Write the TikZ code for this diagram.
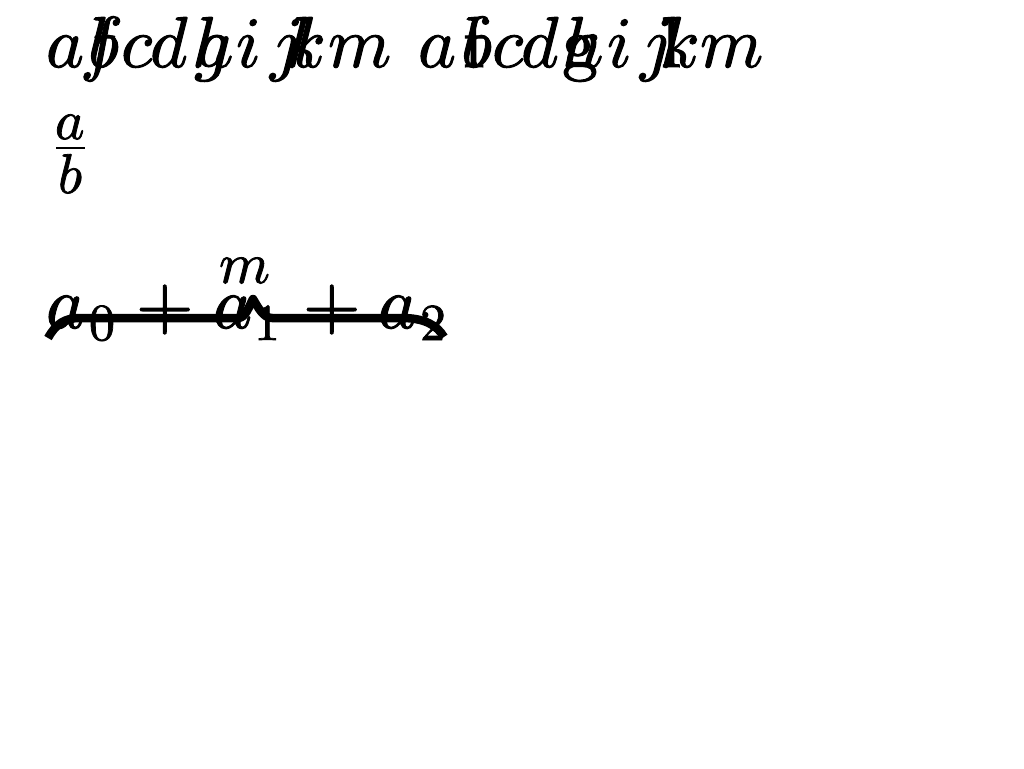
\documentclass[tikz,border=0pt]{standalone}
\usepackage{graphicx}
\newcommand{\GlHeavy}[2]{\special{pdf:literal direct 2 Tr 0.14 w}\scalebox{#1}{$#2$}\special{pdf:literal direct 0 Tr}}
\newcommand{\GlBig}[1]{\GlHeavy{7.2}{#1}}
\newcommand{\GlFrac}[1]{\GlHeavy{5.6}{#1}}
\newcommand{\GlSum}[1]{\GlHeavy{7.4}{#1}}
\newcommand{\GlSub}[1]{\GlHeavy{5.2}{#1}}
\newcommand{\GlSup}[1]{\GlHeavy{5.8}{#1}}
\tikzset{
  glyph/.style={anchor=base west, inner sep=0pt, outer sep=0pt, font=\fontsize{10}{12}\selectfont},
  bracepath/.style={line width=8.5pt, line join=round},
}
\begin{document}
\begin{tikzpicture}[x=1pt, y=-1pt]
\useasboundingbox (0,0) rectangle (1024,768);
% first word
\node[glyph] (a1) at (46,67) {\GlBig{a}};
\node[glyph] (f1) at (80,67) {\GlBig{f}};
\node[glyph] (b1) at (88,67) {\GlBig{b}};
\node[glyph] (c1) at (121,67) {\GlBig{c}};
\node[glyph] (d1) at (150,67) {\GlBig{d}};
\node[glyph] (h1) at (192,67) {\GlBig{h}};
\node[glyph] (g1) at (194,67) {\GlBig{g}};
\node[glyph] (i1) at (236,67) {\GlBig{i}};
\node[glyph] (j1) at (270,67) {\GlBig{j}};
\node[glyph] (k1) at (286,67) {\GlBig{k}};
\node[glyph] (l1) at (294,67) {\GlBig{l}};
\node[glyph] (m1) at (328,67) {\GlBig{m}};
% second word
\node[glyph] (a2) at (418,67) {\GlBig{a}};
\node[glyph] (b2) at (461,67) {\GlBig{b}};
\node[glyph] (f2) at (463,67) {\GlBig{\mathrm{f}}};
\node[glyph] (c2) at (492,67) {\GlBig{c}};
\node[glyph] (d2) at (521,67) {\GlBig{d}};
\node[glyph] (h2) at (562,67) {\GlBig{h}};
\node[glyph] (g2) at (562,67) {\GlBig{\mathrm{g}}};
\node[glyph] (i2) at (607,67) {\GlBig{i}};
\node[glyph] (j2) at (640,67) {\GlBig{j}};
\node[glyph] (k2) at (660,67) {\GlBig{k}};
\node[glyph] (l2) at (661,67) {\GlBig{\mathrm{l}}};
\node[glyph] (m2) at (700,67) {\GlBig{m}};
% fraction
\node[glyph] (fa) at (55,139) {\GlFrac{a}};
\coordinate (barL) at (56,148);
\coordinate (barR) at (85,148);
\draw[line width=2.8pt] (barL) -- (barR);
\node[glyph] (fb) at (58,193) {\GlFrac{b}};
% sum with misplaced brace
\node[glyph] (sa0) at (46,328) {\GlSum{a}};
\node[glyph] (s0) at (89,340) {\GlSub{0}};
\node[glyph] (p1) at (136,328) {\GlSum{+}};
\node[glyph] (sa1) at (213,328) {\GlSum{a}};
\node[glyph] (s1) at (254,340) {\GlSub{1}};
\node[glyph] (p2) at (303,328) {\GlSum{+}};
\node[glyph] (sa2) at (378,328) {\GlSum{a}};
\node[glyph] (s2) at (420,340) {\GlSub{2}};
\node[glyph] (sm) at (219,283) {\GlSup{m}};
\coordinate (brL) at (48,338);
\coordinate (brR) at (444,337);
\draw[bracepath] (brL) .. controls (56,324) and (64,318) .. (80,318)
  -- (238,318) .. controls (246,318) and (249,306) .. (253,299)
  .. controls (258,307) and (263,318) .. (272,318)
  -- (402,318) .. controls (424,318) and (437,325) .. (brR);
\end{tikzpicture}
\end{document}
